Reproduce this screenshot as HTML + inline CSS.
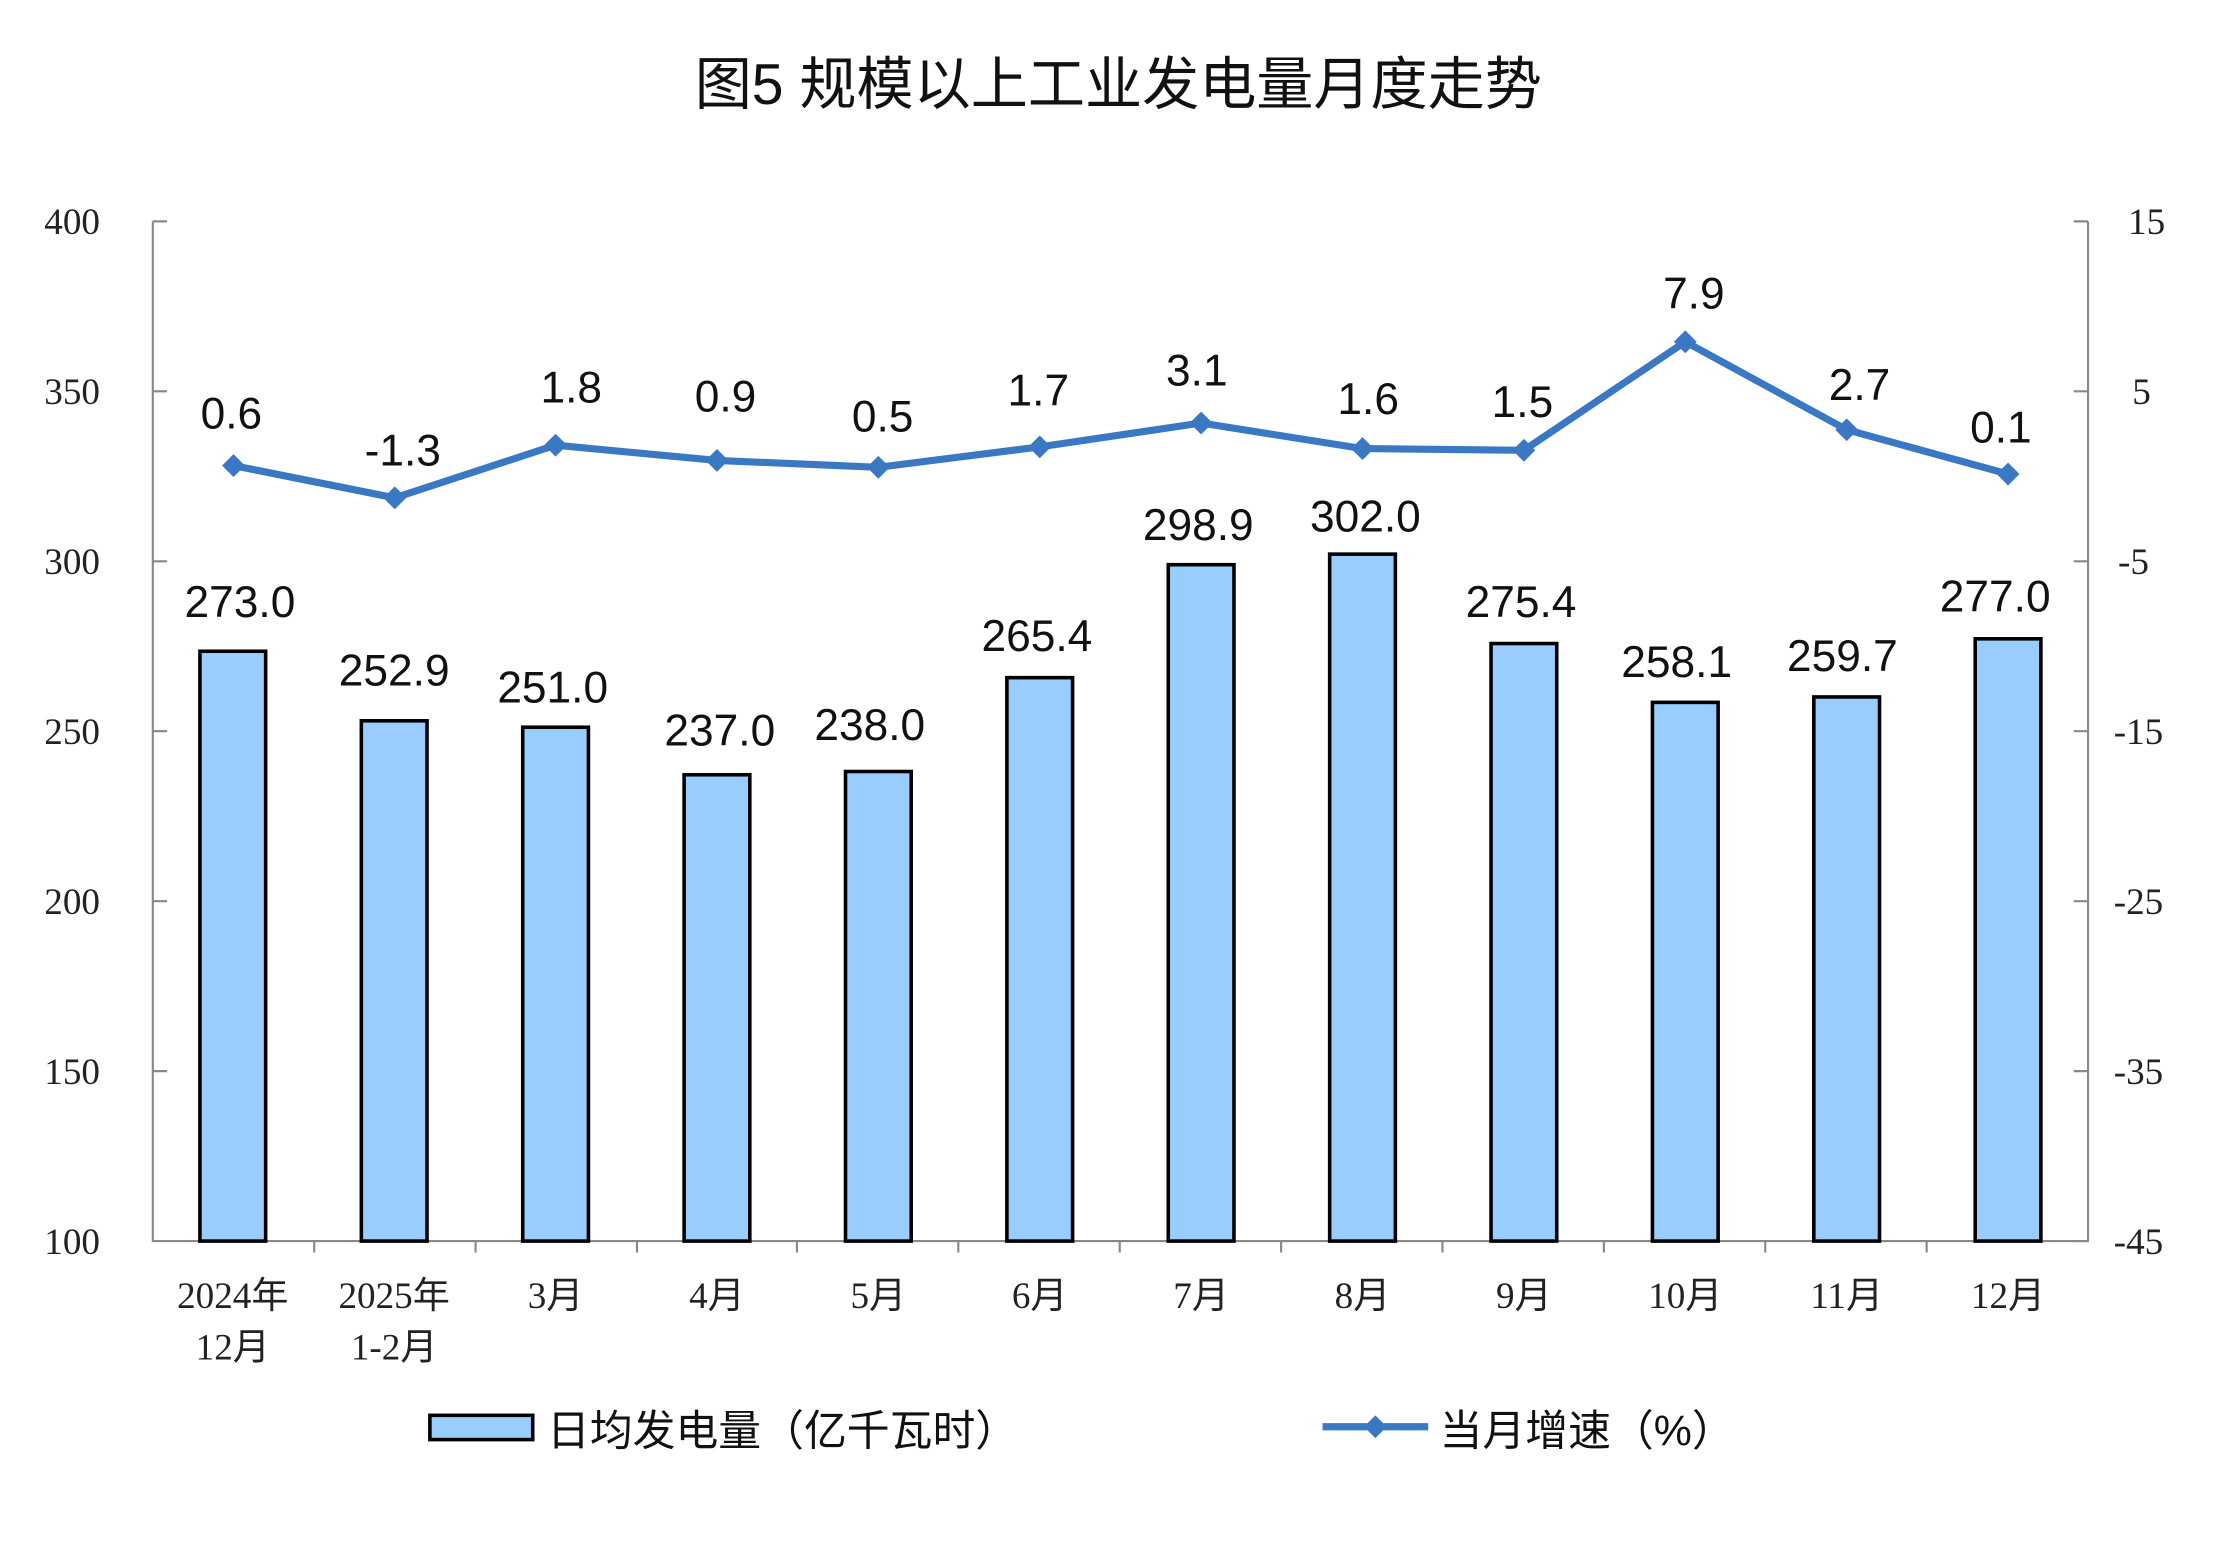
<!DOCTYPE html>
<html><head><meta charset="utf-8"><style>html,body{margin:0;padding:0;background:#fff}svg{display:block}</style></head>
<body>
<svg width="2228" height="1556" viewBox="0 0 1560 1089.5" preserveAspectRatio="none" xmlns="http://www.w3.org/2000/svg">
<rect width="1560" height="1090" fill="#fff"/>
<text x="783" y="73" text-anchor="middle" font-family="Liberation Sans, Noto Sans CJK SC, sans-serif" font-size="40" fill="#111">图5  规模以上工业发电量月度走势</text>
<g stroke="#888" stroke-width="1.5" fill="none">
<path d="M107 155V869H1462V155"/>
<path d="M107 155h10M107 274h10M107 393h10M107 512h10M107 631h10M107 750h10"/>
<path d="M1462 155h-10M1462 274h-10M1462 393h-10M1462 512h-10M1462 631h-10M1462 750h-10M1462 869h-10"/>
<path d="M220 869v8M333 869v8M446 869v8M558 869v8M671 869v8M784 869v8M897 869v8M1010 869v8M1123 869v8M1236 869v8M1349 869v8"/>
</g>
<g font-family="Liberation Serif, serif" font-size="26" fill="#222">
<g text-anchor="end"><text x="70" y="164">400</text><text x="70" y="283">350</text><text x="70" y="402">300</text><text x="70" y="521">250</text><text x="70" y="640">200</text><text x="70" y="759">150</text><text x="70" y="878">100</text></g>
<g text-anchor="start"><text x="1490" y="164">15</text><text x="1493" y="283">5</text><text x="1483" y="402">-5</text><text x="1480" y="521">-15</text><text x="1480" y="640">-25</text><text x="1480" y="759">-35</text><text x="1480" y="878">-45</text></g>
</g>
<g font-family="Liberation Serif, Noto Sans CJK SC, sans-serif" font-size="26" fill="#222" text-anchor="middle">
<text x="163" y="916">2024年</text><text x="163" y="952">12月</text>
<text x="276" y="916">2025年</text><text x="276" y="952">1-2月</text>
<text x="389" y="916">3月</text><text x="502" y="916">4月</text><text x="615" y="916">5月</text><text x="728" y="916">6月</text><text x="841" y="916">7月</text><text x="954" y="916">8月</text><text x="1067" y="916">9月</text><text x="1180" y="916">10月</text><text x="1293" y="916">11月</text><text x="1406" y="916">12月</text>
</g>
<g fill="#99ccff" stroke="#000" stroke-width="2.5">
<rect x="140" y="456" width="46" height="413"/>
<rect x="253" y="504.7" width="46" height="364.3"/>
<rect x="366" y="509.2" width="46" height="359.8"/>
<rect x="479" y="542.5" width="46" height="326.5"/>
<rect x="592" y="540.2" width="46" height="328.8"/>
<rect x="705" y="474.5" width="46" height="394.5"/>
<rect x="818" y="395.4" width="46" height="473.6"/>
<rect x="931" y="388" width="46" height="481"/>
<rect x="1044" y="450.6" width="46" height="418.4"/>
<rect x="1157" y="491.8" width="46" height="377.2"/>
<rect x="1270" y="488" width="46" height="381"/>
<rect x="1383" y="447.3" width="46" height="421.7"/>
</g>
<g font-family="Liberation Sans, sans-serif" font-size="31" fill="#111" text-anchor="middle">
<text x="168" y="432">273.0</text><text x="276" y="480">252.9</text><text x="387" y="492">251.0</text><text x="504" y="522">237.0</text><text x="609" y="518">238.0</text><text x="726" y="456">265.4</text><text x="839" y="378">298.9</text><text x="956" y="372">302.0</text><text x="1065" y="432">275.4</text><text x="1174" y="474">258.1</text><text x="1290" y="470">259.7</text><text x="1397" y="428">277.0</text>
<text x="162" y="300">0.6</text><text x="282" y="326">-1.3</text><text x="400" y="282">1.8</text><text x="508" y="288">0.9</text><text x="618" y="302">0.5</text><text x="727" y="284">1.7</text><text x="838" y="270">3.1</text><text x="958" y="290">1.6</text><text x="1066" y="292">1.5</text><text x="1186" y="216">7.9</text><text x="1302" y="280">2.7</text><text x="1401" y="310">0.1</text>
</g>
<polyline fill="none" stroke="#3a78c4" stroke-width="5" stroke-linejoin="round" points="163.5,326 276.4,348.6 389,311.7 502,322.4 615,327.2 728,312.9 841,296.2 954,314.1 1067,315.3 1180,239.3 1293,300.9 1406,331.9"/>
<g fill="#3a78c4">
<path d="M163.5 318l8 8-8 8-8-8z"/><path d="M276.4 340.6l8 8-8 8-8-8z"/><path d="M389 303.7l8 8-8 8-8-8z"/><path d="M502 314.4l8 8-8 8-8-8z"/><path d="M615 319.2l8 8-8 8-8-8z"/><path d="M728 304.9l8 8-8 8-8-8z"/><path d="M841 288.2l8 8-8 8-8-8z"/><path d="M954 306.1l8 8-8 8-8-8z"/><path d="M1067 307.3l8 8-8 8-8-8z"/><path d="M1180 231.3l8 8-8 8-8-8z"/><path d="M1293 292.9l8 8-8 8-8-8z"/><path d="M1406 323.9l8 8-8 8-8-8z"/>
</g>
<rect x="301" y="991" width="72" height="17" fill="#99ccff" stroke="#000" stroke-width="2.5"/>
<text x="383" y="1012" font-family="Liberation Sans, Noto Sans CJK SC, sans-serif" font-size="30" fill="#111">日均发电量（亿千瓦时）</text>
<line x1="926" y1="999" x2="1000" y2="999" stroke="#3a78c4" stroke-width="5"/>
<path d="M963 991l8 8-8 8-8-8z" fill="#3a78c4"/>
<text x="1008" y="1012" font-family="Liberation Sans, Noto Sans CJK SC, sans-serif" font-size="30" fill="#111">当月增速（%）</text>
</svg>
</body></html>
